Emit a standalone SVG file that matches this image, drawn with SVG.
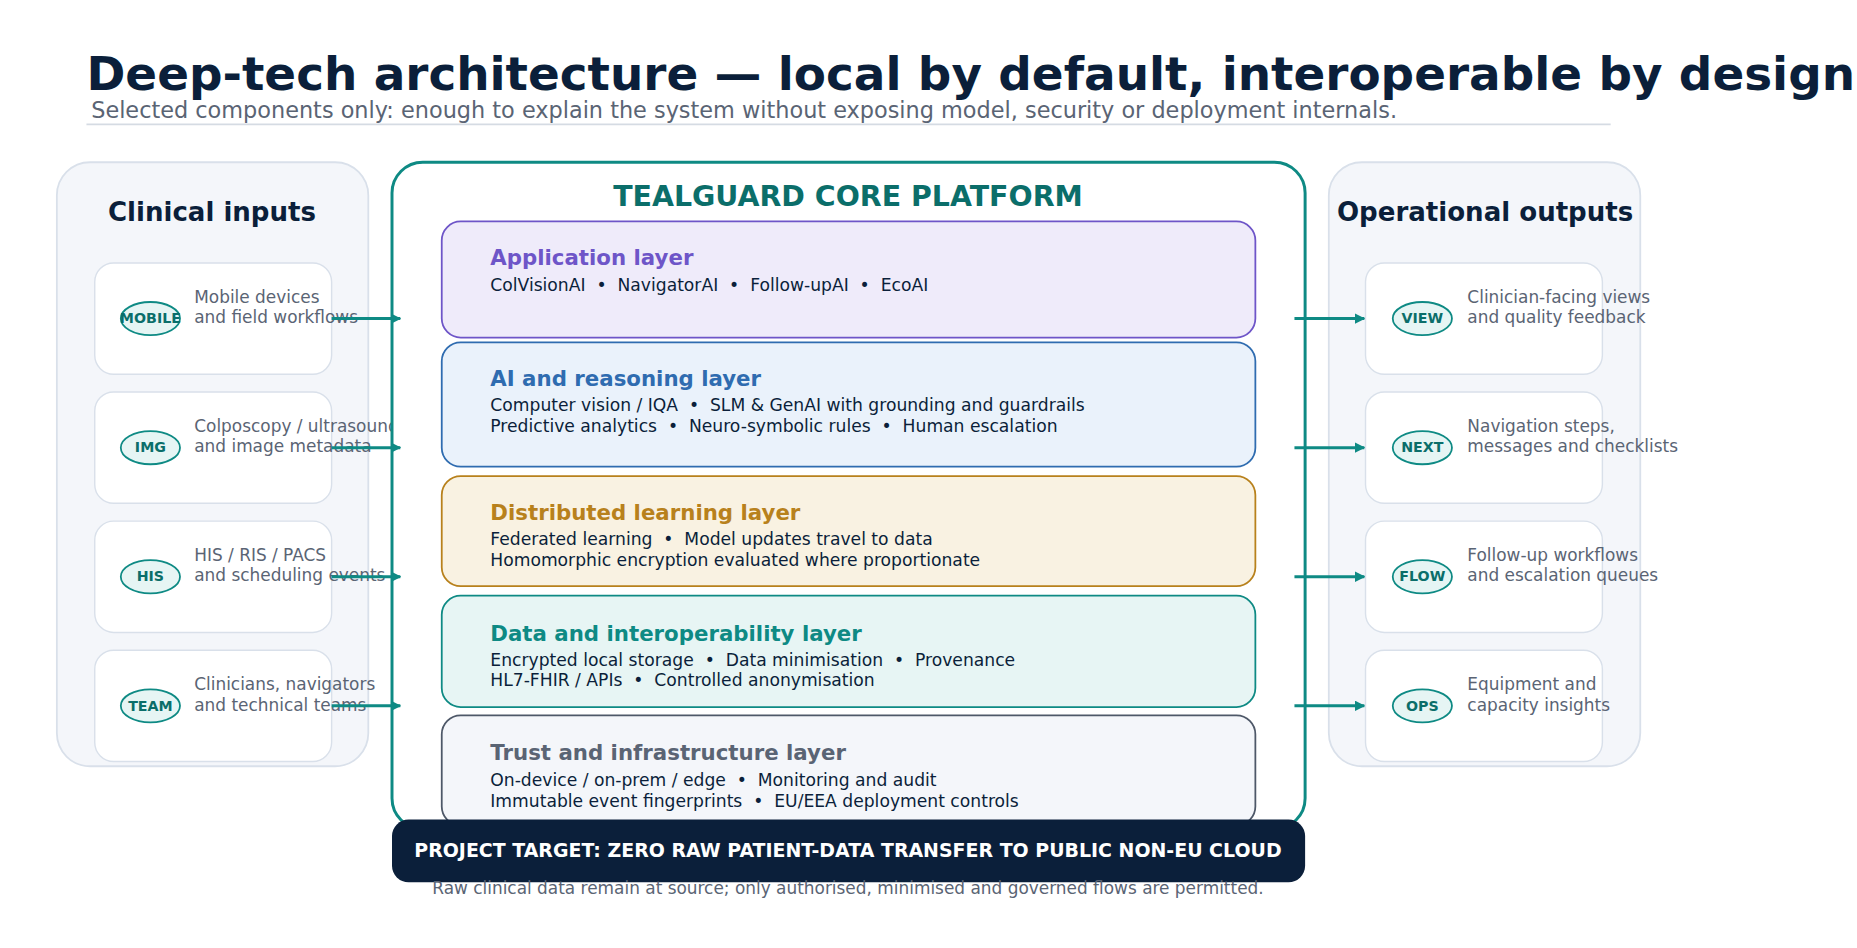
<svg xmlns="http://www.w3.org/2000/svg" width="1857" height="948" viewBox="0 0 1857 948">
<defs>
<marker id="ah" viewBox="0 0 10 10" refX="9" refY="5" markerWidth="9" markerHeight="9" markerUnits="userSpaceOnUse" orient="auto"><path d="M0,0 L10,5 L0,10 z" fill="#0e8a84"/></marker>
<style>
text{font-family:"DejaVu Sans","Noto Sans",sans-serif}
.panel{fill:#f4f6fa;stroke:#d9e0ea;stroke-width:1.5}
.card{fill:#fff;stroke:#d9e0ea;stroke-width:1.2}
.pill{fill:#e6f5f4;stroke:#0e8a84;stroke-width:1.5}
.pt{font-size:12px;font-weight:bold;fill:#0b6e6a;text-anchor:middle}
.ct{font-size:14.3px;fill:#5a6474}
.ph{font-size:22px;font-weight:bold;fill:#0b1f3a;text-anchor:middle}
.lt{font-size:18px;font-weight:bold}
.lb{font-size:14.5px;fill:#0b1f3a;white-space:pre}
.conn{stroke:#0e8a84;stroke-width:2.5;fill:none}
</style>
</defs>
<rect width="1857" height="948" fill="#fff"/>
<g transform="scale(1.18431)">
<g id="title">
<text x="73" y="76" font-size="39.6" font-weight="bold" fill="#0b1f3a">Deep-tech architecture — local by default, interoperable by design</text>
<text x="77" y="100" font-size="18.9" fill="#5a6474">Selected components only: enough to explain the system without exposing model, security or deployment internals.</text>
<line x1="73" y1="105" x2="1360" y2="105" stroke="#d5dbe3" stroke-width="1.5"/>
</g>
<g id="inputs">
<rect class="panel" x="48" y="137" width="263" height="510" rx="28"/>
<text class="ph" x="179" y="187">Clinical inputs</text>
</g>
<g id="in-mobile"><rect class="card" x="80" y="222" width="200" height="94" rx="16"/><ellipse class="pill" cx="127" cy="269" rx="25" ry="14"/><text class="pt" x="127" y="273">MOBILE</text><text class="ct" x="164" y="256">Mobile devices</text><text class="ct" x="164" y="273">and field workflows</text></g>
<g id="in-img"><rect class="card" x="80" y="331" width="200" height="94" rx="16"/><ellipse class="pill" cx="127" cy="378" rx="25" ry="14"/><text class="pt" x="127" y="382">IMG</text><text class="ct" x="164" y="365">Colposcopy / ultrasound</text><text class="ct" x="164" y="382">and image metadata</text></g>
<g id="in-his"><rect class="card" x="80" y="440" width="200" height="94" rx="16"/><ellipse class="pill" cx="127" cy="487" rx="25" ry="14"/><text class="pt" x="127" y="491">HIS</text><text class="ct" x="164" y="474">HIS / RIS / PACS</text><text class="ct" x="164" y="491">and scheduling events</text></g>
<g id="in-team"><rect class="card" x="80" y="549" width="200" height="94" rx="16"/><ellipse class="pill" cx="127" cy="596" rx="25" ry="14"/><text class="pt" x="127" y="600">TEAM</text><text class="ct" x="164" y="583">Clinicians, navigators</text><text class="ct" x="164" y="600">and technical teams</text></g>
<g id="outputs">
<rect class="panel" x="1122" y="137" width="263" height="510" rx="28"/>
<text class="ph" x="1254" y="187">Operational outputs</text>
</g>
<g id="out-view"><rect class="card" x="1153" y="222" width="200" height="94" rx="16"/><ellipse class="pill" cx="1201" cy="269" rx="25" ry="14"/><text class="pt" x="1201" y="273">VIEW</text><text class="ct" x="1239" y="256">Clinician-facing views</text><text class="ct" x="1239" y="273">and quality feedback</text></g>
<g id="out-next"><rect class="card" x="1153" y="331" width="200" height="94" rx="16"/><ellipse class="pill" cx="1201" cy="378" rx="25" ry="14"/><text class="pt" x="1201" y="382">NEXT</text><text class="ct" x="1239" y="365">Navigation steps,</text><text class="ct" x="1239" y="382">messages and checklists</text></g>
<g id="out-flow"><rect class="card" x="1153" y="440" width="200" height="94" rx="16"/><ellipse class="pill" cx="1201" cy="487" rx="25" ry="14"/><text class="pt" x="1201" y="491">FLOW</text><text class="ct" x="1239" y="474">Follow-up workflows</text><text class="ct" x="1239" y="491">and escalation queues</text></g>
<g id="out-ops"><rect class="card" x="1153" y="549" width="200" height="94" rx="16"/><ellipse class="pill" cx="1201" cy="596" rx="25" ry="14"/><text class="pt" x="1201" y="600">OPS</text><text class="ct" x="1239" y="583">Equipment and</text><text class="ct" x="1239" y="600">capacity insights</text></g>
<g id="core">
<rect x="331" y="137" width="771" height="563" rx="26" fill="#fff" stroke="#0e8a84" stroke-width="2.5"/>
<text x="716" y="174" font-size="24" font-weight="bold" fill="#0b6e6a" text-anchor="middle">TEALGUARD CORE PLATFORM</text>
</g>
<g id="layer-app"><rect x="373" y="187" width="687" height="98" rx="16" fill="#efebfa" stroke="#6e55c8" stroke-width="1.5"/><text class="lt" x="414" y="224" fill="#6e55c8">Application layer</text><text class="lb" x="414" y="246" xml:space="preserve">ColVisionAI  •  NavigatorAI  •  Follow-upAI  •  EcoAI</text></g>
<g id="layer-ai"><rect x="373" y="289" width="687" height="105" rx="16" fill="#eaf2fb" stroke="#2f6cb0" stroke-width="1.5"/><text class="lt" x="414" y="326" fill="#2f6cb0">AI and reasoning layer</text><text class="lb" x="414" y="347" xml:space="preserve">Computer vision / IQA  •  SLM &amp; GenAI with grounding and guardrails</text><text class="lb" x="414" y="365" xml:space="preserve">Predictive analytics  •  Neuro-symbolic rules  •  Human escalation</text></g>
<g id="layer-dist"><rect x="373" y="402" width="687" height="93" rx="16" fill="#f9f2e2" stroke="#b8811c" stroke-width="1.5"/><text class="lt" x="414" y="439" fill="#b8811c">Distributed learning layer</text><text class="lb" x="414" y="460" xml:space="preserve">Federated learning  •  Model updates travel to data</text><text class="lb" x="414" y="478">Homomorphic encryption evaluated where proportionate</text></g>
<g id="layer-data"><rect x="373" y="503" width="687" height="94" rx="16" fill="#e7f5f4" stroke="#0e8a84" stroke-width="1.5"/><text class="lt" x="414" y="541" fill="#0e8a84">Data and interoperability layer</text><text class="lb" x="414" y="562" xml:space="preserve">Encrypted local storage  •  Data minimisation  •  Provenance</text><text class="lb" x="414" y="579" xml:space="preserve">HL7-FHIR / APIs  •  Controlled anonymisation</text></g>
<g id="layer-trust"><rect x="373" y="604" width="687" height="93" rx="16" fill="#f4f6fa" stroke="#4e5868" stroke-width="1.5"/><text class="lt" x="414" y="642" fill="#5a6474">Trust and infrastructure layer</text><text class="lb" x="414" y="664" xml:space="preserve">On-device / on-prem / edge  •  Monitoring and audit</text><text class="lb" x="414" y="681" xml:space="preserve">Immutable event fingerprints  •  EU/EEA deployment controls</text></g>
<g id="target">
<rect x="331" y="692" width="771" height="53" rx="14" fill="#0b1f3a"/>
<text x="716" y="724" font-size="16" font-weight="bold" fill="#fff" text-anchor="middle">PROJECT TARGET: ZERO RAW PATIENT-DATA TRANSFER TO PUBLIC NON-EU CLOUD</text>
<text x="716" y="755" font-size="14.3" fill="#5a6474" text-anchor="middle">Raw clinical data remain at source; only authorised, minimised and governed flows are permitted.</text>
</g>
<g id="connectors">
<line class="conn" x1="280" y1="269" x2="338" y2="269" marker-end="url(#ah)"/>
<line class="conn" x1="280" y1="378" x2="338" y2="378" marker-end="url(#ah)"/>
<line class="conn" x1="280" y1="487" x2="338" y2="487" marker-end="url(#ah)"/>
<line class="conn" x1="280" y1="596" x2="338" y2="596" marker-end="url(#ah)"/>
<line class="conn" x1="1093" y1="269" x2="1152" y2="269" marker-end="url(#ah)"/>
<line class="conn" x1="1093" y1="378" x2="1152" y2="378" marker-end="url(#ah)"/>
<line class="conn" x1="1093" y1="487" x2="1152" y2="487" marker-end="url(#ah)"/>
<line class="conn" x1="1093" y1="596" x2="1152" y2="596" marker-end="url(#ah)"/>
</g>
</g>
</svg>
